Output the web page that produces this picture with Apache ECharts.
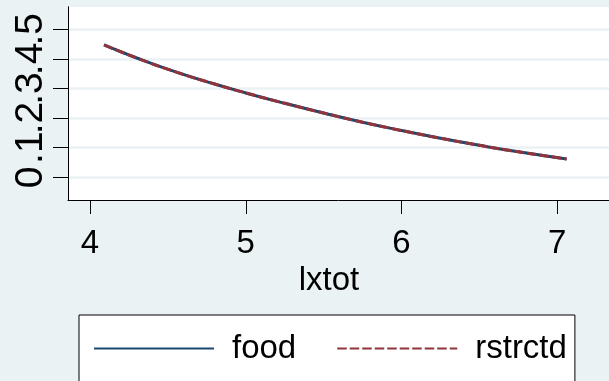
<!DOCTYPE html>
<html>
<head>
<meta charset="utf-8">
<script src="https://cdn.jsdelivr.net/npm/echarts@6/dist/echarts.min.js"></script>
<style>
  html, body { margin: 0; padding: 0; background: #eaf2f3; }
  #chart { width: 609px; height: 381px; }
</style>
</head>
<body>
<div id="chart"></div>
<script>
// Data
const lxtot   = [4.09, 4.3, 4.55, 4.8, 5.0, 5.25, 5.5, 5.75, 6.0, 6.25, 6.5, 6.75, 7.06];
const food    = [0.447, 0.403, 0.356, 0.315, 0.285, 0.250, 0.217, 0.186, 0.158, 0.132, 0.108, 0.086, 0.062];
const rstrctd = [0.447, 0.403, 0.356, 0.315, 0.285, 0.250, 0.217, 0.186, 0.158, 0.132, 0.108, 0.086, 0.062];

const xTicks = [4, 5, 6, 7];
const yTicks = [0, 0.1, 0.2, 0.3, 0.4, 0.5];
const yTickLabels = ['0', '.1', '.2', '.3', '.4', '.5'];
const seriesNames = ['food', 'rstrctd'];
const xTitle = 'lxtot';

const font = '"Liberation Sans", Arial, sans-serif';
const bg = '#eaf2f3';
const navy = '#1a476f';
const maroon = '#90353b';

const pairs = (xs, ys) => xs.map((x, i) => [x, ys[i]]);
const yLabelOf = (v) => {
  for (let i = 0; i < yTicks.length; i++) {
    if (Math.abs(yTicks[i] - v) < 1e-9) return yTickLabels[i];
  }
  return '';
};

// The rotated y labels touch each other; splitting them over two coincident
// axes keeps ECharts from dropping a label (and its tick) as "overlapping".
const yTicksEven = yTicks.filter((_, i) => i % 2 === 0);
const yTicksOdd  = yTicks.filter((_, i) => i % 2 === 1);

const makeYAxis = (ticks) => ({
  type: 'value',
  position: 'left',
  offset: 0,
  min: -0.0767, max: 0.5753,
  axisLine: { show: true, onZero: false, lineStyle: { color: '#000', width: 1 } },
  axisTick: { show: true, length: 15, lineStyle: { color: '#000', width: 1 }, customValues: ticks },
  axisLabel: {
    show: true, customValues: ticks, rotate: 90, margin: 17,
    fontFamily: font, fontSize: 39, color: '#000', hideOverlap: false,
    showMinLabel: true, showMaxLabel: true,
    formatter: yLabelOf
  },
  splitLine: { show: true, lineStyle: { color: bg, width: 2.5 } }
});

const chart = echarts.init(document.getElementById('chart'), null, { renderer: 'canvas' });
chart.setOption({
  backgroundColor: bg,
  animation: false,
  grid: {
    left: 68, top: 7, right: 0, bottom: 181,
    show: true, backgroundColor: '#ffffff', borderWidth: 0,
    containLabel: false
  },
  xAxis: {
    type: 'value',
    min: 3.8588, max: 7.332,
    name: xTitle,
    nameLocation: 'middle',
    nameGap: 60,
    nameTextStyle: { fontFamily: font, fontSize: 33, color: '#000', padding: [0, 19, 0, 0] },
    axisLine: { show: true, onZero: false, lineStyle: { color: '#000', width: 1 } },
    axisTick: { show: true, length: 14, lineStyle: { color: '#000', width: 1 }, customValues: xTicks },
    axisLabel: { show: true, customValues: xTicks, margin: 27, fontFamily: font, fontSize: 33, color: '#000', hideOverlap: false },
    splitLine: { show: false }
  },
  yAxis: [makeYAxis(yTicksEven), makeYAxis(yTicksOdd)],
  legend: {
    show: true,
    left: 79, top: 315,
    orient: 'horizontal',
    padding: [17, 8, 40, 14],
    itemWidth: 120, itemHeight: 0.01, itemGap: 40,
    itemStyle: { color: 'rgba(0,0,0,0)', borderColor: 'rgba(0,0,0,0)', borderWidth: 0 },
    backgroundColor: '#ffffff',
    borderColor: '#000', borderWidth: 1, borderRadius: 0,
    textStyle: { fontFamily: font, fontSize: 33, color: '#000', lineHeight: 33, padding: [0, 0, 0, 13] },
    data: seriesNames,
    selectedMode: false
  },
  series: [
    {
      name: seriesNames[0], type: 'line', yAxisIndex: 0, data: pairs(lxtot, food),
      symbol: 'none', smooth: true,
      lineStyle: { color: navy, width: 3, type: 'solid' },
      itemStyle: { color: navy }
    },
    {
      name: seriesNames[1], type: 'line', yAxisIndex: 0, data: pairs(lxtot, rstrctd),
      symbol: 'none', smooth: true,
      lineStyle: { color: maroon, width: 3, type: [9.5, 3], cap: 'butt' },
      itemStyle: { color: maroon }
    }
  ]
});
</script>
</body>
</html>
